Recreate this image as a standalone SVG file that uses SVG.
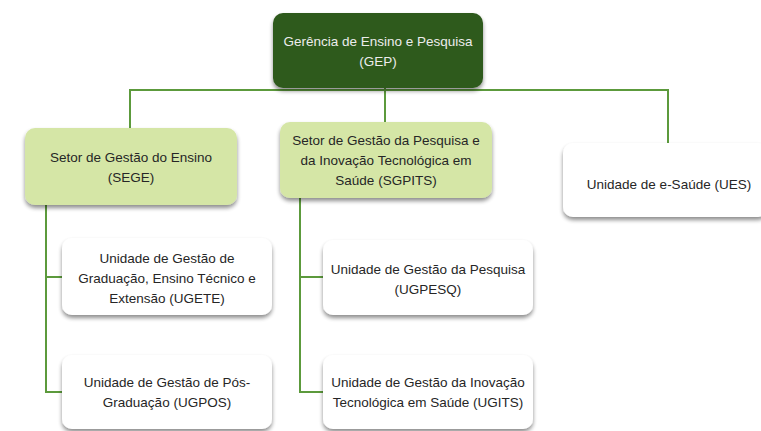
<svg xmlns="http://www.w3.org/2000/svg" width="761" height="431" viewBox="0 0 761 431">
<defs>
<filter id="sh" x="-10%" y="-10%" width="120%" height="130%">
<feGaussianBlur in="SourceAlpha" stdDeviation="2"/>
<feOffset dx="0" dy="3" result="b"/>
<feComponentTransfer><feFuncA type="linear" slope="0.45"/></feComponentTransfer>
<feMerge><feMergeNode/><feMergeNode in="SourceGraphic"/></feMerge>
</filter>
</defs>
<style>
.box{filter:url(#sh)}
.top{fill:#2f5a1f}
.mid{fill:#d5e6a6}
.low{fill:#ffffff}
.t{font-family:"Liberation Sans",Arial,sans-serif;font-size:13.5px;fill:#262626;text-anchor:middle}
.tw{fill:#ececec}
.c{fill:none;stroke:#5c9a3c;stroke-width:2}
</style>
<rect width="761" height="431" fill="#ffffff"/>
<g id="connectors">
<path class="c" d="M130,128 V90 H668 V143"/>
<path class="c" d="M385,88 V122"/>
<path class="c" d="M46,205 V392 H62 M46,277 H62"/>
<path class="c" d="M300,198 V392 H323 M300,277 H323"/>
</g>
<g id="gep">
<rect class="box top" x="273" y="13" width="210" height="75" rx="10"/>
<text class="t tw" x="378" y="46">Gerência de Ensino e Pesquisa</text>
<text class="t tw" x="378" y="66">(GEP)</text>
</g>
<g id="sege">
<rect class="box mid" x="25" y="128" width="212" height="77" rx="10"/>
<text class="t" x="131" y="162">Setor de Gestão do Ensino</text>
<text class="t" x="131" y="182">(SEGE)</text>
</g>
<g id="sgpits">
<rect class="box mid" x="280" y="122" width="212" height="76" rx="10"/>
<text class="t" x="386" y="145">Setor de Gestão da Pesquisa e</text>
<text class="t" x="386" y="165">da Inovação Tecnológica em</text>
<text class="t" x="386" y="185">Saúde (SGPITS)</text>
</g>
<g id="ues">
<rect class="box low" x="563" y="143" width="205" height="74" rx="10"/>
<text class="t" x="669" y="189">Unidade de e-Saúde (UES)</text>
</g>
<g id="ugete">
<rect class="box low" x="62" y="238" width="210" height="77" rx="10"/>
<text class="t" x="167" y="263">Unidade de Gestão de</text>
<text class="t" x="167" y="283">Graduação, Ensino Técnico e</text>
<text class="t" x="167" y="303">Extensão (UGETE)</text>
</g>
<g id="ugpos">
<rect class="box low" x="62" y="355" width="210" height="74" rx="10"/>
<text class="t" x="167" y="387">Unidade de Gestão de Pós-</text>
<text class="t" x="167" y="407">Graduação (UGPOS)</text>
</g>
<g id="ugpesq">
<rect class="box low" x="323" y="240" width="210" height="75" rx="10"/>
<text class="t" x="428" y="274">Unidade de Gestão da Pesquisa</text>
<text class="t" x="428" y="294">(UGPESQ)</text>
</g>
<g id="ugits">
<rect class="box low" x="323" y="355" width="210" height="74" rx="10"/>
<text class="t" x="428" y="387">Unidade de Gestão da Inovação</text>
<text class="t" x="428" y="407">Tecnológica em Saúde (UGITS)</text>
</g>
</svg>
